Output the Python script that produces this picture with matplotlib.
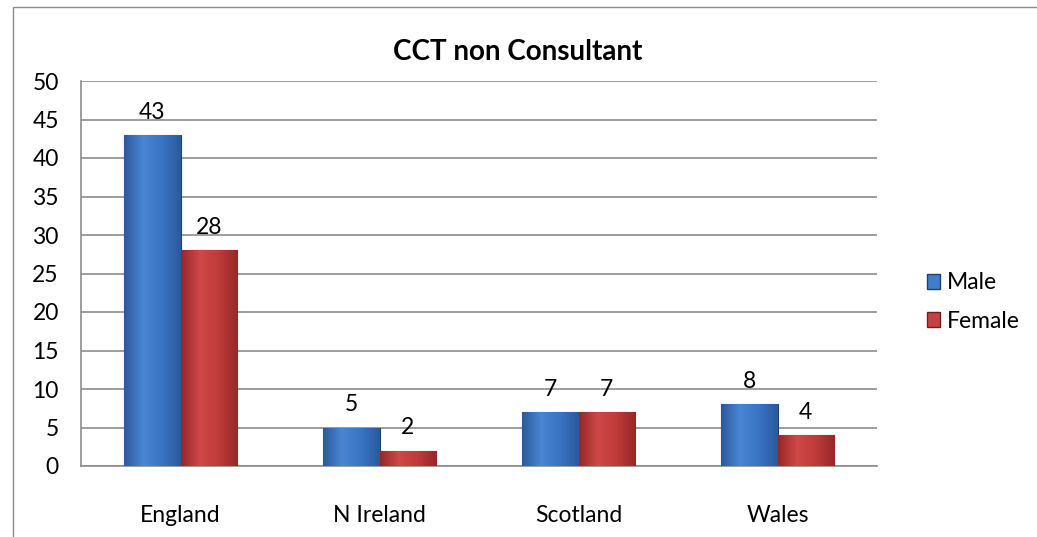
import numpy as np
import matplotlib
matplotlib.use("Agg")
import matplotlib.pyplot as plt
from matplotlib.patches import Rectangle, Patch
from matplotlib.colors import LinearSegmentedColormap

categories = ["England", "N Ireland", "Scotland", "Wales"]
male = [43, 5, 7, 8]
female = [28, 2, 7, 4]
series_names = ["Male", "Female"]
yticks = [0, 5, 10, 15, 20, 25, 30, 35, 40, 45, 50]

plt.rcParams['font.family'] = ['Lato', 'DejaVu Sans']
FS = 16.5

fig = plt.figure(figsize=(10.37, 5.37), dpi=100)
W, H = 1037, 537
# outer chart border
fig.add_artist(Rectangle((13 / W, -0.01), 1.2, (H - 7) / H + 0.01, transform=fig.transFigure,
                         fill=False, edgecolor="#8c8c8c", linewidth=1.0))

ax = fig.add_axes([81 / W, 1 - 466 / H, (877 - 81) / W, (466 - 81) / H])
ax.set_xlim(-0.5, 3.5)
ax.set_ylim(0, 50)
ax.set_yticks(yticks)
ax.set_yticklabels([str(t) for t in yticks], fontsize=FS)
ax.yaxis.grid(True, color="#8c8c8c", linewidth=1.2)
ax.set_axisbelow(True)
for s in ["top", "right"]:
    ax.spines[s].set_visible(False)
for s in ["left", "bottom"]:
    ax.spines[s].set_color("#8c8c8c")
    ax.spines[s].set_linewidth(1.2)
ax.tick_params(axis="both", length=0)
ax.tick_params(axis="y", pad=16)
ax.set_xticks(range(len(categories)))
ax.set_xticklabels(categories, fontsize=FS)
ax.tick_params(axis="x", pad=28)

x = np.arange(len(categories))
bw = 0.285
cmaps = [
    LinearSegmentedColormap.from_list("b", ["#2a5a9c", "#4a86d4", "#3a74c4", "#2a5a9c"]),
    LinearSegmentedColormap.from_list("r", ["#962828", "#d04848", "#bf3a3a", "#962828"]),
]
edgecols = ["#203f6c", "#6e1e1e"]
grad = np.linspace(0, 1, 100).reshape(1, -1)
for si, vals in enumerate([male, female]):
    xs = x - bw / 2 if si == 0 else x + bw / 2
    bars = ax.bar(xs, vals, width=bw, color=cmaps[si](0.5), edgecolor=edgecols[si],
                  linewidth=0.8, zorder=3)
    for b, v in zip(bars, vals):
        x0, w, h = b.get_x(), b.get_width(), b.get_height()
        im = ax.imshow(grad, extent=[x0, x0 + w, 0, h], aspect="auto", cmap=cmaps[si],
                       zorder=3.5)
        im.set_clip_path(b)
        ax.text(x0 + w / 2, h + 1.6, str(v), ha="center", va="bottom", fontsize=FS, zorder=5)
ax.set_xlim(-0.5, 3.5)
ax.set_ylim(0, 50)

fig.text(518 / W, 1 - 52 / H, "CCT non Consultant", ha="center", va="center",
         fontsize=20, fontweight="bold")

handles = [Patch(facecolor=cmaps[0](0.5), edgecolor=edgecols[0]),
           Patch(facecolor=cmaps[1](0.5), edgecolor=edgecols[1])]
fig.legend(handles, series_names, loc="center left", bbox_to_anchor=(906 / W, 1 - 302 / H),
           frameon=False, fontsize=FS, handlelength=0.6, handleheight=0.6,
           handletextpad=0.3, labelspacing=0.75)

fig.savefig("out.png", dpi=100)
